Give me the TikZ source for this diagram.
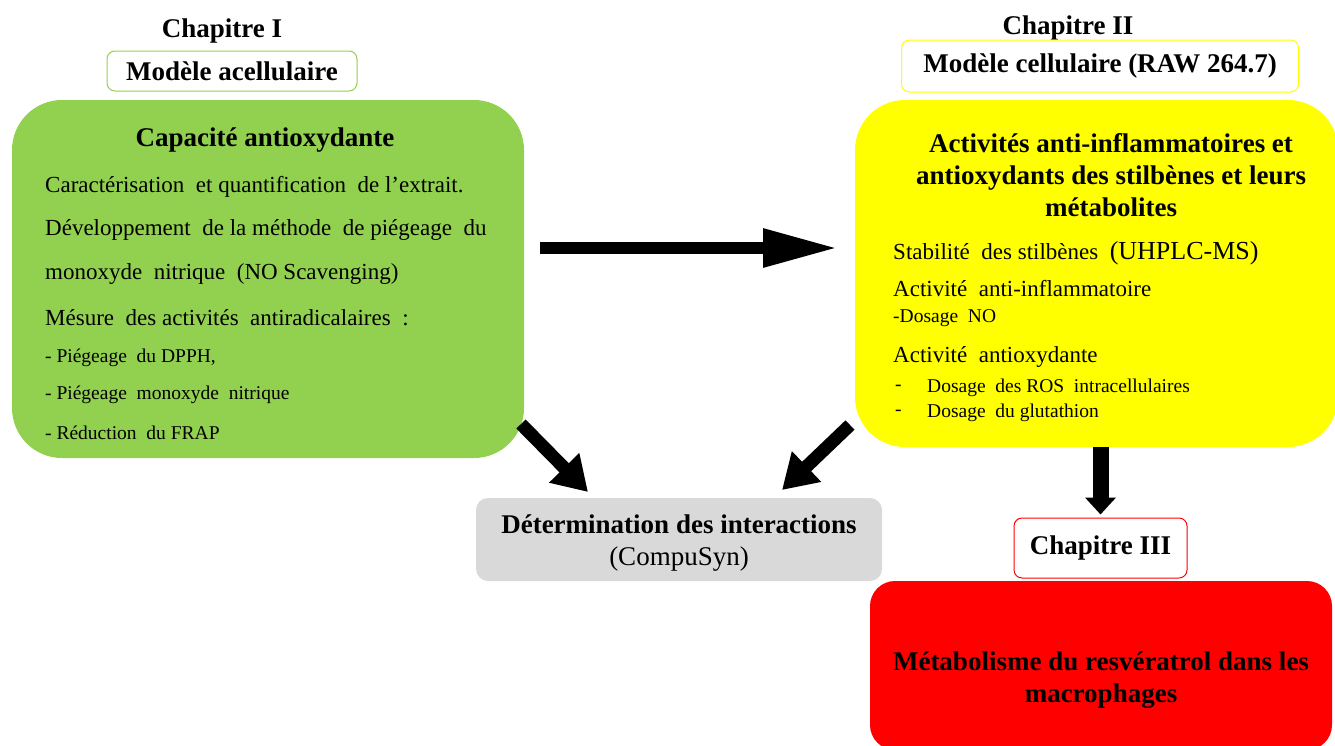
\documentclass[tikz,border=0pt]{standalone}
\usepackage{fontspec}
\setmainfont{Liberation Serif}
\usepackage{xcolor}
\usetikzlibrary{arrows.meta}
\usetikzlibrary{positioning}

\definecolor{vert}{HTML}{92D050}
\definecolor{jaune}{HTML}{FFFF00}
\definecolor{gris}{HTML}{D9D9D9}
\definecolor{rouge}{HTML}{FF0000}

\begin{document}
\begin{tikzpicture}[x=1pt,y=-1pt,
  bloc/.style={inner sep=0pt,outer sep=0pt},
  titre/.style={font=\fontsize{27}{32}\selectfont\bfseries,align=center},
  texte/.style={font=\fontsize{23}{27}\selectfont,anchor=west,inner sep=0pt},
  petit/.style={font=\fontsize{19.5}{23}\selectfont,anchor=west,inner sep=0pt},
  cadre/.style={draw,fill=white,rounded corners=8pt,line width=1pt},
  fleche/.style={line width=13pt,-{Triangle[length=34pt,width=40pt]}}]

  \clip (0,0) rectangle (1335,745);

  % chapitre I
  \node[titre] (chI) at (222,31) {Chapitre I};
  \node[cadre,draw=vert,titre,minimum width=250pt,minimum height=40pt] (acell) at (232,71) {Modèle acellulaire};
  \node[bloc,fill=vert,rounded corners=50pt,minimum width=512pt,minimum height=358pt] (vert) at (268,279) {};
  \node[titre] (capa) at (265,140) {Capacité antioxydante};
  \node[texte] (c1) at (45,187) {Caractérisation \ et quantification \ de l’extrait.};
  \node[texte] (c2) at (45,230) {Développement \ de la méthode \ de piégeage \ du};
  \node[texte] (c3) at (45,274) {monoxyde \ nitrique \ (NO Scavenging)};
  \node[texte] (c4) at (45,318) {Mésure \ des activités \ antiradicalaires \ :};
  \node[petit] (c5) at (45,358) {- Piégeage \ du DPPH,};
  \node[petit] (c6) at (45,395) {- Piégeage \ monoxyde \ nitrique};
  \node[petit] (c7) at (45,433) {- Réduction \ du FRAP};

  % chapitre II
  \node[titre] (chII) at (1068,28) {Chapitre II};
  \node[cadre,draw=jaune,titre,minimum width=397pt,minimum height=52pt] (cell) at (1100,66) {Modèle cellulaire (RAW 264.7)};
  \node[bloc,fill=jaune,rounded corners=50pt,minimum width=483pt,minimum height=347pt] (jaune) at (1096.5,273.5) {};
  \node[titre] (acti) at (1111,175) {Activités anti-inflammatoires et\\antioxydants des stilbènes et leurs\\métabolites};
  \node[texte] (s1) at (893,253) {Stabilité \ des stilbènes \ {\fontsize{26}{30}\selectfont(UHPLC-MS)}};
  \node[texte] (s2) at (893,289) {Activité \ anti-inflammatoire};
  \node[petit] (s3) at (893,318) {-Dosage \ NO};
  \node[texte] (s4) at (893,357) {Activité \ antioxydante};
  \node[petit] (s5) at (895,388) {-};
  \node[petit] (s6) at (927,388) {Dosage \ des ROS \ intracellulaires};
  \node[petit] (s7) at (895,413) {-};
  \node[petit] (s8) at (927,413) {Dosage \ du glutathion};

  % interactions
  \node[bloc,fill=gris,rounded corners=12pt,minimum width=406pt,minimum height=83pt] (gris) at (679,539.5) {};
  \node[titre] (inter) at (679,543) {Détermination des interactions\\\mdseries(CompuSyn)};

  % chapitre III
  \node[cadre,draw=rouge,titre,minimum width=173pt,minimum height=60pt] (chIII) at (1100.5,548) {Chapitre III};
  \node[bloc,fill=rouge,rounded corners=25pt,minimum width=462pt,minimum height=169pt] (rouge) at (1101,665.5) {};
  \node[titre] (meta) at (1101,680) {Métabolisme du resvératrol dans les\\macrophages};

  % fleches
  \coordinate (h1) at (540,248);
  \coordinate (h2) at (838,248);
  \coordinate (g1) at (521,424);
  \coordinate (g2) at (588,492);
  \coordinate (d1) at (850,425);
  \coordinate (d2) at (782,490);
  \draw[fleche,line width=12pt,-{Triangle[length=75pt,width=36pt]}] (h1) -- (h2);
  \draw[fleche] (g1) -- (g2);
  \draw[fleche] (d1) -- (d2);
  \draw[fleche,line width=16pt,-{Triangle[length=17pt,width=30pt]}] (jaune.south -| chIII.north) -- ([yshift=3pt]chIII.north);

\end{tikzpicture}
\end{document}
